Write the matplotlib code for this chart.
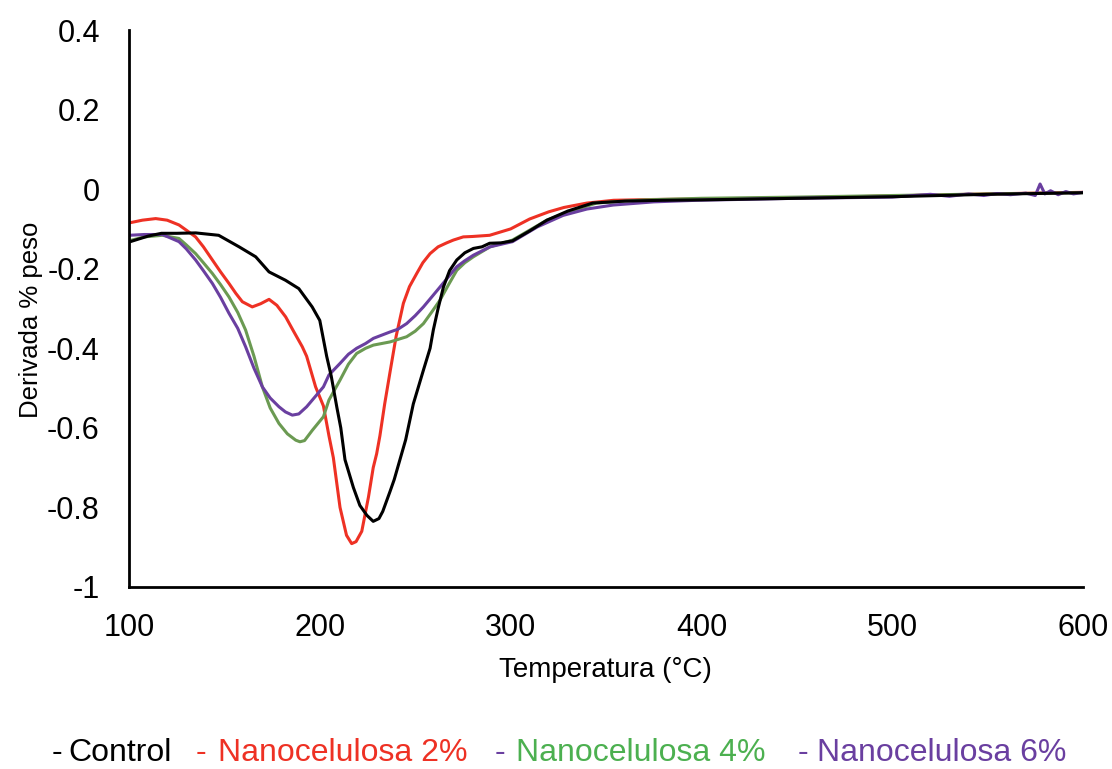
import matplotlib
matplotlib.use('Agg')
import matplotlib.pyplot as plt

# Control curve
temp_control = [100, 110, 117, 125, 135, 147, 157.7, 166.4, 173.4, 182, 189, 196, 200, 203.6, 206, 209, 211, 213.2,
                217.6, 221, 224.7, 228, 231, 233, 236.8, 239, 242, 245, 249, 251.5, 254.3, 257.8, 259.5, 262,
                264.8, 268, 271.8, 276, 280.5, 285, 289, 295, 301, 310, 319, 330, 343, 360, 380, 400, 450, 500, 550, 600]
deriv_control = [-0.133, -0.118, -0.111, -0.111, -0.11, -0.116, -0.145, -0.17, -0.208, -0.229, -0.25, -0.296, -0.33,
                 -0.42, -0.47, -0.55, -0.6, -0.68, -0.75, -0.795, -0.82, -0.835, -0.828, -0.81, -0.76, -0.73, -0.68,
                 -0.63, -0.54, -0.5, -0.455, -0.4, -0.354, -0.3, -0.246, -0.205, -0.178, -0.16, -0.149, -0.145, -0.136,
                 -0.135, -0.13, -0.105, -0.078, -0.055, -0.035, -0.03, -0.028, -0.027, -0.023, -0.019, -0.013, -0.009]

# Nanocelulosa 2%
temp_2 = [100, 107, 114, 120, 126.2, 130, 134.9, 139, 143.7, 148, 152.4, 156, 159.4, 164.6, 169, 173.4, 177.5, 182.1,
          186, 190.8, 193.1, 197.8, 201.9, 204.8, 207.1, 210.6, 214, 216.7, 219, 222, 225.5, 228, 229.8, 231.5, 234,
          236.8, 240, 243.8, 247, 250.8, 254, 257.8, 262, 266.5, 270, 275.2, 280, 289, 300, 310, 320, 328, 340, 354,
          375, 400, 450, 500, 550, 600]
deriv_2 = [-0.085, -0.078, -0.074, -0.078, -0.09, -0.103, -0.12, -0.145, -0.178, -0.208, -0.237, -0.262, -0.283, -0.296,
           -0.288, -0.277, -0.292, -0.321, -0.355, -0.396, -0.42, -0.497, -0.545, -0.62, -0.675, -0.8, -0.87, -0.891,
           -0.886, -0.86, -0.774, -0.7, -0.665, -0.62, -0.54, -0.46, -0.37, -0.287, -0.245, -0.212, -0.185, -0.162,
           -0.145, -0.135, -0.128, -0.12, -0.119, -0.116, -0.1, -0.075, -0.057, -0.046, -0.035, -0.028, -0.026, -0.025,
           -0.022, -0.017, -0.012, -0.008]

# Nanocelulosa 4%
temp_4 = [100, 108, 117.5, 126.2, 130, 134.9, 139, 143.7, 148, 152.4, 157, 161.1, 165.5, 169.9, 174, 178.6, 183,
          187.4, 189.6, 192, 196.1, 201.9, 204.8, 210.6, 215, 219.3, 224, 228.1, 236.8, 245.5, 250, 254.3, 258.5, 263,
          267.5, 271.8, 276, 280.5, 289.2, 301, 310, 319, 330, 345, 370, 400, 450, 500, 550, 600]
deriv_4 = [-0.13, -0.12, -0.116, -0.124, -0.14, -0.162, -0.185, -0.212, -0.24, -0.271, -0.31, -0.354, -0.42, -0.497,
           -0.55, -0.589, -0.615, -0.631, -0.635, -0.632, -0.606, -0.572, -0.53, -0.48, -0.44, -0.413, -0.4, -0.392,
           -0.384, -0.371, -0.357, -0.338, -0.31, -0.279, -0.24, -0.204, -0.185, -0.17, -0.145, -0.128, -0.103, -0.078,
           -0.058, -0.035, -0.027, -0.023, -0.02, -0.016, -0.012, -0.009]

# Nanocelulosa 6%
temp_6 = [100, 108, 117.5, 126.2, 130, 134.9, 139, 143.7, 148, 152.4, 157, 161.1, 165.5, 169.9, 174, 178.6, 182,
          185.6, 189, 193.1, 196.1, 201.9, 204.8, 210.6, 215, 219.3, 224, 228.1, 236.8, 241, 245.5, 250, 254.3, 258.5,
          263, 267.5, 271.8, 276, 280.5, 289.2, 301, 314, 327.5, 340, 353.7, 375, 397.7, 450, 500, 520, 530, 540, 548,
          555, 562, 570, 575, 577.5, 580, 583, 587, 591, 595, 600]
deriv_6 = [-0.116, -0.114, -0.114, -0.132, -0.15, -0.178, -0.205, -0.237, -0.272, -0.312, -0.35, -0.396, -0.45, -0.497,
           -0.525, -0.547, -0.56, -0.568, -0.565, -0.547, -0.53, -0.497, -0.467, -0.438, -0.415, -0.4, -0.388, -0.375,
           -0.359, -0.352, -0.338, -0.318, -0.296, -0.272, -0.246, -0.22, -0.195, -0.18, -0.166, -0.145, -0.132,
           -0.095, -0.066, -0.05, -0.04, -0.032, -0.028, -0.023, -0.02, -0.013, -0.018, -0.012, -0.016, -0.011, -0.014,
           -0.01, -0.016, 0.013, -0.012, -0.004, -0.014, -0.006, -0.012, -0.008]

series_labels = ['Control', 'Nanocelulosa 2%', 'Nanocelulosa 4%', 'Nanocelulosa 6%']
line_colors = ['#000000', '#ee3124', '#6b9a52', '#6a3fa0']
text_colors = ['#000000', '#ee3124', '#4cb050', '#6a3fa0']
dash_colors = ['#000000', '#ee3124', '#6a3fa0', '#6a3fa0']

xticks = [100, 200, 300, 400, 500, 600]
yticks = [-1, -0.8, -0.6, -0.4, -0.2, 0, 0.2, 0.4]
ytick_labels = ['-1', '-0.8', '-0.6', '-0.4', '-0.2', '0', '0.2', '0.4']

plt.rcParams['font.family'] = ['Liberation Sans', 'DejaVu Sans']

fig = plt.figure(figsize=(11.12, 7.69), dpi=100)
ax = fig.add_axes([129 / 1112, 1 - 587 / 769, (1083 - 129) / 1112, (587 - 30) / 769])

all_data = [(temp_control, deriv_control), (temp_2, deriv_2), (temp_4, deriv_4), (temp_6, deriv_6)]
# draw the control last so black sits on top where it crosses
for i in [1, 2, 3, 0]:
    t, d = all_data[i]
    ax.plot(t, d, color=line_colors[i], lw=2.2, solid_joinstyle='round')

ax.set_xlim(100, 600)
ax.set_ylim(-1, 0.4)
ax.set_xticks(xticks)
ax.set_xticklabels([str(x) for x in xticks])
ax.set_yticks(yticks)
ax.set_yticklabels(ytick_labels)
ax.tick_params(length=0, labelsize=22)
ax.tick_params(axis='y', pad=21)
ax.tick_params(axis='x', pad=19)
for s in ['top', 'right']:
    ax.spines[s].set_visible(False)
for s in ['left', 'bottom']:
    ax.spines[s].set_linewidth(2)

ax.set_xlabel('Temperatura (°C)', fontsize=20)
ax.xaxis.set_label_coords(0.499, -0.126)
ax.set_ylabel('Derivada % peso', fontsize=18.5)
ax.yaxis.set_label_coords(-0.09, 0.479)

# legend drawn as coloured text, each item with its own dash
dash_x = [52, 196, 495, 798]
text_x = [68, 218, 516, 817]
for lab, tcol, dcol, dx, tx in zip(series_labels, text_colors, dash_colors, dash_x, text_x):
    fig.text(dx / 1112, 1 - 753 / 769, '-', color=dcol, fontsize=23, va='center', ha='left')
    fig.text(tx / 1112, 1 - 753 / 769, lab, color=tcol, fontsize=23, va='center', ha='left')

fig.savefig('out.png', dpi=100)
